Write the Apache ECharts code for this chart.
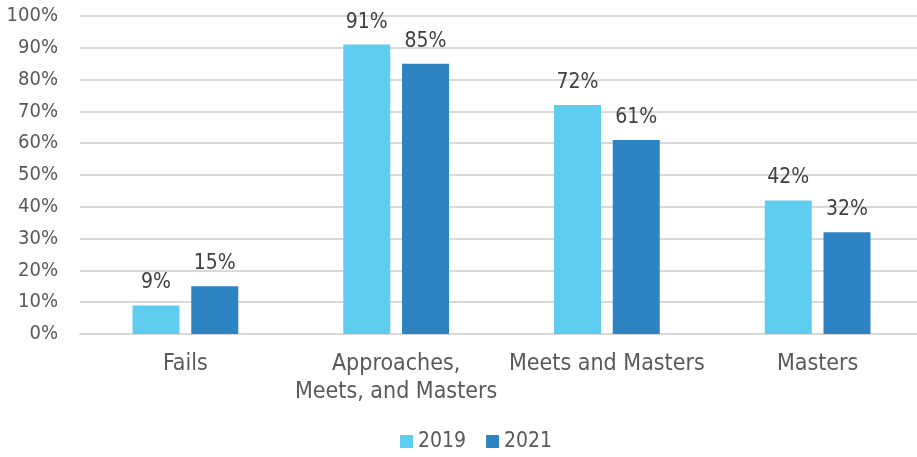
<!DOCTYPE html>
<html lang="en">
<head>
	<meta charset='utf-8'>
	<title>2019 vs 2021</title>
	<script src="https://cdn.jsdelivr.net/npm/echarts@6/dist/echarts.min.js"></script>
	<style>
		html, body { margin: 0; padding: 0; background: #fff; }
		#container { width: 917px; height: 457px; }
	</style>
</head>
<body>
	<div id="container"></div>
	<script type="text/javascript">
		// data
		let categories = ['Fails', 'Approaches,\nMeets, and Masters', 'Meets and Masters', 'Masters'];
		let data2019 = [9, 91, 72, 42];
		let data2021 = [15, 85, 61, 32];
		let yTicks = [0, 10, 20, 30, 40, 50, 60, 70, 80, 90, 100];

		let txtColor = '#595959';
		let fontName = 'DejaVu Sans Condensed';

		let dom = document.getElementById('container');
		let myChart = echarts.init(dom, null, { renderer: 'canvas' });

		function barSeries(name, values, color) {
			return {
				name: name,
				type: 'bar',
				data: values,
				barWidth: 47,
				barGap: '25%',
				itemStyle: { color: color },
				label: {
					show: true,
					position: 'top',
					distance: 12,
					formatter: '{c}%',
					color: '#404040',
					fontFamily: fontName,
					fontSize: 21
				}
			};
		}

		let option = {
			animation: false,
			textStyle: { fontFamily: fontName },
			// plot runs a little past the right edge, like the source image
			grid: { left: 80, width: 843, top: 16, bottom: 123, containLabel: false, outerBoundsMode: 'none' },
			legend: {
				bottom: 0,
				left: 395,
				itemWidth: 13,
				itemHeight: 13,
				itemGap: 20,
				icon: 'rect',
				textStyle: { color: txtColor, fontSize: 21, fontFamily: fontName },
				data: ['2019', '2021']
			},
			xAxis: {
				type: 'category',
				data: categories,
				axisTick: { show: false },
				axisLine: { lineStyle: { color: '#d9d9d9', width: 2 } },
				axisLabel: {
					color: txtColor,
					fontSize: 23,
					fontFamily: fontName,
					margin: 16,
					lineHeight: 28,
					interval: 0
				}
			},
			yAxis: {
				type: 'value',
				min: yTicks[0],
				max: yTicks[yTicks.length - 1],
				interval: 10,
				axisLine: { show: false },
				axisTick: { show: false },
				splitLine: { lineStyle: { color: '#d9d9d9', width: 2 } },
				axisLabel: {
					color: txtColor,
					fontSize: 20,
					fontFamily: fontName,
					margin: 22,
					formatter: '{value}%'
				}
			},
			series: [
				barSeries('2019', data2019, '#5ecdef'),
				barSeries('2021', data2021, '#2e83c3')
			]
		};

		myChart.setOption(option);
	</script>
</body>
</html>
